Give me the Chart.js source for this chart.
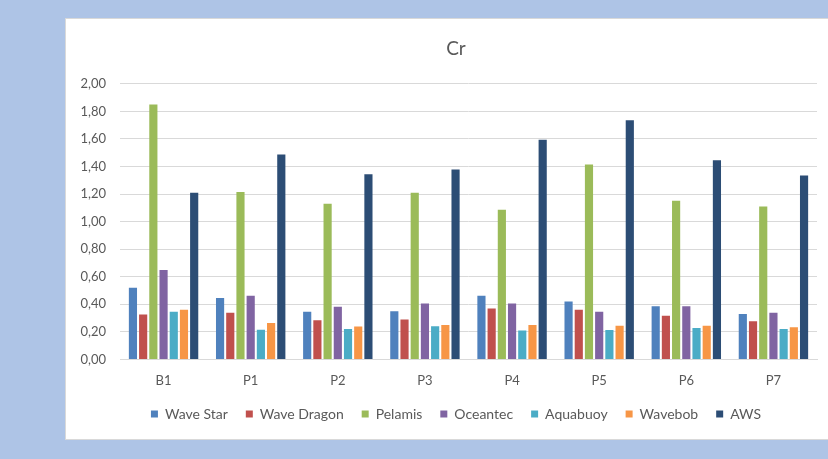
<!DOCTYPE html>
<html>
<head>
<meta charset="utf-8">
<script src="https://cdn.jsdelivr.net/npm/chart.js@4"></script>
<style>
    html, body { margin: 0; padding: 0; width: 828px; height: 459px; overflow: hidden; background: #AEC4E6; }
    #panel { position: absolute; left: 65px; top: 18px; width: 780px; height: 422px; background: #fff; border: 1px solid #D9D9D9; box-sizing: border-box; }
    #chart { position: absolute; left: 0; top: 0; }
</style>
</head>
<body>
<div id="panel"><canvas id="chart" width="780" height="422"></canvas></div>
<script>
// Categories and series values
const categories = ['B1', 'P1', 'P2', 'P3', 'P4', 'P5', 'P6', 'P7'];
const waveStar   = [0.52, 0.445, 0.345, 0.35, 0.462, 0.42, 0.386, 0.33];
const waveDragon = [0.326, 0.338, 0.284, 0.289, 0.369, 0.36, 0.316, 0.277];
const pelamis    = [1.85, 1.215, 1.13, 1.21, 1.086, 1.414, 1.152, 1.11];
const oceantec   = [0.649, 0.462, 0.382, 0.406, 0.406, 0.345, 0.386, 0.338];
const aquabuoy   = [0.345, 0.216, 0.221, 0.24, 0.209, 0.214, 0.228, 0.221];
const wavebob    = [0.36, 0.265, 0.238, 0.25, 0.25, 0.245, 0.245, 0.233];
const aws        = [1.21, 1.487, 1.344, 1.378, 1.594, 1.735, 1.446, 1.334];
const yTicks     = [0, 0.2, 0.4, 0.6, 0.8, 1.0, 1.2, 1.4, 1.6, 1.8, 2.0];

const series = [
    { label: 'Wave Star', data: waveStar, color: '#4F81BD' },
    { label: 'Wave Dragon', data: waveDragon, color: '#C0504D' },
    { label: 'Pelamis', data: pelamis, color: '#9BBB59' },
    { label: 'Oceantec', data: oceantec, color: '#8064A2' },
    { label: 'Aquabuoy', data: aquabuoy, color: '#4BACC6' },
    { label: 'Wavebob', data: wavebob, color: '#F79646' },
    { label: 'AWS', data: aws, color: '#2C4D75' }
];

const fontFamily = 'Lato, "Liberation Sans", sans-serif';
const textColor = '#595959';

const ctx = document.getElementById('chart').getContext('2d');
new Chart(ctx, {
    type: 'bar',
    data: {
        labels: categories,
        datasets: series.map(s => ({
            label: s.label,
            data: s.data,
            backgroundColor: s.color,
            borderWidth: 0,
            barPercentage: 0.8,
            categoryPercentage: 0.82
        }))
    },
    options: {
        responsive: false,
        animation: false,
        layout: {
            padding: { left: 0, right: 0, top: 0, bottom: 10 }
        },
        plugins: {
            title: {
                display: true,
                text: 'Cr',
                color: textColor,
                font: { family: fontFamily, size: 19, weight: 'normal' },
                padding: { top: 18, bottom: 24 }
            },
            legend: {
                position: 'bottom',
                labels: {
                    color: textColor,
                    font: { family: fontFamily, size: 14 },
                    boxWidth: 7,
                    boxHeight: 7,
                    padding: 18
                }
            },
            tooltip: { enabled: false }
        },
        scales: {
            x: {
                // pull the legend a little closer to the category labels
                afterFit: scale => { scale.height -= 6; },
                grid: { display: false },
                border: { color: '#D9D9D9' },
                ticks: {
                    color: textColor,
                    font: { family: fontFamily, size: 13 },
                    padding: 6
                }
            },
            y: {
                min: 0,
                max: 2,
                afterFit: scale => { scale.width = 54; },
                afterBuildTicks: scale => { scale.ticks = yTicks.map(v => ({ value: v })); },
                grid: { color: '#D9D9D9', drawTicks: false },
                border: { display: false },
                ticks: {
                    color: textColor,
                    font: { family: fontFamily, size: 13 },
                    padding: 14,
                    callback: v => v.toFixed(2).replace('.', ',')
                }
            },
            // empty right-hand axis: keeps the plot narrower than the panel
            // so the title and legend stay centred on the whole panel
            yRight: {
                position: 'right',
                afterFit: scale => { scale.width = 29; },
                grid: { display: false },
                border: { display: false },
                ticks: { display: false }
            }
        }
    }
});
</script>
</body>
</html>
